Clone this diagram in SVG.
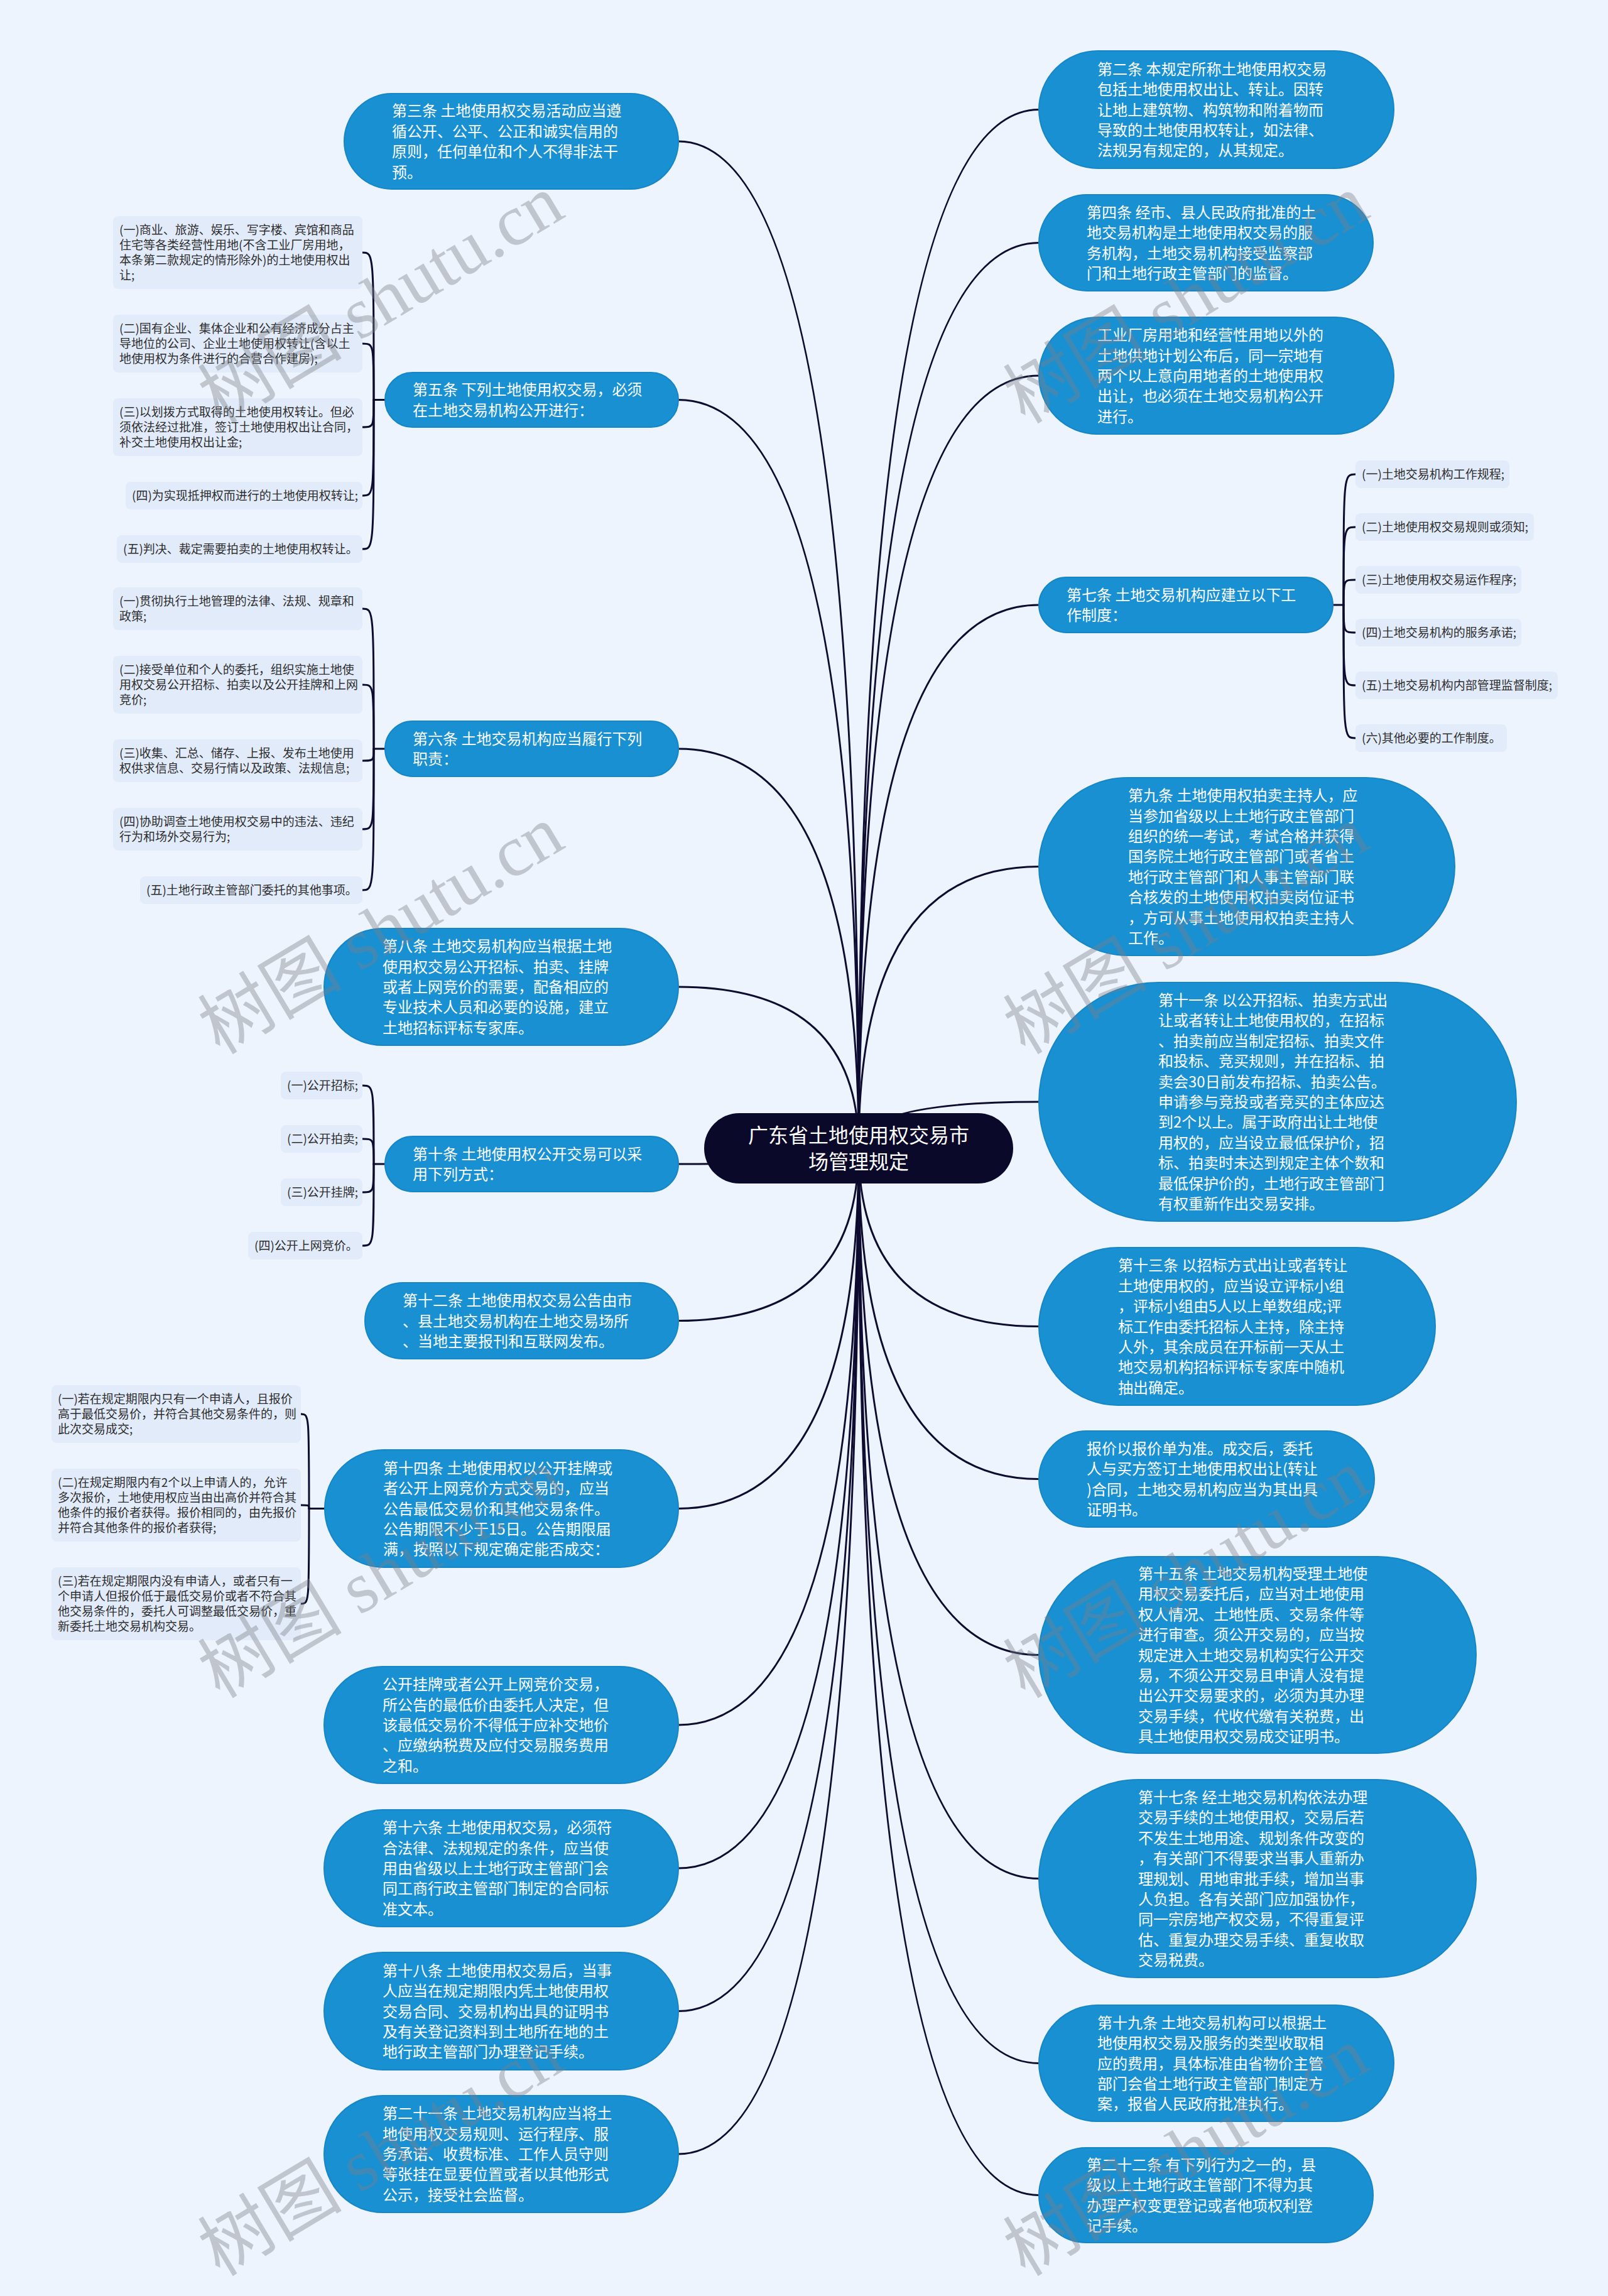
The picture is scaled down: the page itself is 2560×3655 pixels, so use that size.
<svg xmlns="http://www.w3.org/2000/svg" width="2560" height="3655" viewBox="0 0 2560 3655">
<style>
.bg{fill:#eef4fe}
.n rect{fill:#1890d2;stroke:#1786c6;stroke-width:2}
.n text{fill:#ffffff;font-family:"Noto Sans CJK SC","Liberation Sans",sans-serif;font-size:24px}
.l rect{fill:#e2ebfa}
.l text{fill:#2e2e2e;font-family:"Noto Sans CJK SC","Liberation Sans",sans-serif;font-size:19px}
.c path{fill:none;stroke:#0d0b2f;stroke-width:3;stroke-linecap:round}
.root rect{fill:#0b0929}
.root text{fill:#ffffff;font-family:"Noto Sans CJK SC","Liberation Sans",sans-serif;font-size:32px;text-anchor:middle}
.wm text{fill:#7a7f88;fill-opacity:0.4;font-family:"Liberation Serif","Noto Sans CJK SC",serif;font-size:115px}
</style>
<rect class="bg" x="0" y="0" width="2560" height="3655"/>

<g id="connectors" class="c">
<path d="M1367 1828 Q1367 225 1080 225"/>
<path d="M1367 1828 Q1367 636.5 1080 636.5"/>
<path d="M1367 1828 Q1367 1192 1080 1192"/>
<path d="M1367 1828 Q1367 1571 1080 1571"/>
<path d="M1367 1828 Q1367 1853 1080 1853"/>
<path d="M1367 1828 Q1367 2102.5 1080 2102.5"/>
<path d="M1367 1828 Q1367 2401.5 1080 2401.5"/>
<path d="M1367 1828 Q1367 2746 1080 2746"/>
<path d="M1367 1828 Q1367 2974 1080 2974"/>
<path d="M1367 1828 Q1367 3201.5 1080 3201.5"/>
<path d="M1367 1828 Q1367 3429 1080 3429"/>
<path d="M1367 1828 Q1367 174.5 1654 174.5"/>
<path d="M1367 1828 Q1367 386.5 1654 386.5"/>
<path d="M1367 1828 Q1367 598 1654 598"/>
<path d="M1367 1828 Q1367 963 1654 963"/>
<path d="M1367 1828 Q1367 1379.5 1654 1379.5"/>
<path d="M1367 1828 Q1367 1754 1654 1754"/>
<path d="M1367 1828 Q1367 2111.5 1654 2111.5"/>
<path d="M1367 1828 Q1367 2354.5 1654 2354.5"/>
<path d="M1367 1828 Q1367 2634.5 1654 2634.5"/>
<path d="M1367 1828 Q1367 2990.5 1654 2990.5"/>
<path d="M1367 1828 Q1367 3284.5 1654 3284.5"/>
<path d="M1367 1828 Q1367 3494.5 1654 3494.5"/>
<!-- 第五条 leaves -->
<path d="M613 636.5 H595"/>
<path d="M595 636.5 C595 402 595 402 577 402"/>
<path d="M595 636.5 C595 547 595 547 577 547"/>
<path d="M595 636.5 C595 680 595 680 577 680"/>
<path d="M595 636.5 C595 789 595 789 577 789"/>
<path d="M595 636.5 C595 874 595 874 577 874"/>
<!-- 第六条 leaves -->
<path d="M613 1192 H595"/>
<path d="M595 1192 C595 969 595 969 577 969"/>
<path d="M595 1192 C595 1090 595 1090 577 1090"/>
<path d="M595 1192 C595 1211 595 1211 577 1211"/>
<path d="M595 1192 C595 1320 595 1320 577 1320"/>
<path d="M595 1192 C595 1417 595 1417 577 1417"/>
<!-- 第十条 leaves -->
<path d="M613 1853 H595"/>
<path d="M595 1853 C595 1728 595 1728 577 1728"/>
<path d="M595 1853 C595 1813 595 1813 577 1813"/>
<path d="M595 1853 C595 1898 595 1898 577 1898"/>
<path d="M595 1853 C595 1983 595 1983 577 1983"/>
<!-- 第十四条 leaves -->
<path d="M517 2401.5 H492"/>
<path d="M492 2401.5 C492 2251 492 2251 479 2251"/>
<path d="M492 2401.5 C492 2396 492 2396 479 2396"/>
<path d="M492 2401.5 C492 2553 492 2553 479 2553"/>
<!-- 第七条 leaves -->
<path d="M2122 963 H2139"/>
<path d="M2139 963 C2139 755 2139 755 2158 755"/>
<path d="M2139 963 C2139 839 2139 839 2158 839"/>
<path d="M2139 963 C2139 923 2139 923 2158 923"/>
<path d="M2139 963 C2139 1007 2139 1007 2158 1007"/>
<path d="M2139 963 C2139 1091 2139 1091 2158 1091"/>
<path d="M2139 963 C2139 1175 2139 1175 2158 1175"/>
</g>

<g id="root" class="root">
<rect x="1121" y="1772" width="492" height="112" rx="56"/>
<text x="1367" y="1819">广东省土地使用权交易市</text>
<text x="1367" y="1861">场管理规定</text>
</g>

<!-- Left main nodes -->
<g id="n3" class="n">
<rect x="548" y="149" width="532" height="152" rx="76"/>
<text><tspan x="624" y="185.4">第三条 土地使用权交易活动应当遵</tspan><tspan x="624" y="217.8">循公开、公平、公正和诚实信用的</tspan><tspan x="624" y="250.2">原则，任何单位和个人不得非法干</tspan><tspan x="624" y="282.6">预。</tspan></text>
</g>
<g id="n5" class="n">
<rect x="613" y="593" width="467" height="87" rx="43.5"/>
<text><tspan x="657" y="629.3">第五条 下列土地使用权交易，必须</tspan><tspan x="657" y="661.7">在土地交易机构公开进行：</tspan></text>
</g>
<g id="n6" class="n">
<rect x="613" y="1148" width="467" height="88" rx="44"/>
<text><tspan x="657" y="1184.8">第六条 土地交易机构应当履行下列</tspan><tspan x="657" y="1217.2">职责：</tspan></text>
</g>
<g id="n8" class="n">
<rect x="516" y="1478" width="564" height="186" rx="93"/>
<text><tspan x="609" y="1515.2">第八条 土地交易机构应当根据土地</tspan><tspan x="609" y="1547.6">使用权交易公开招标、拍卖、挂牌</tspan><tspan x="609" y="1580">或者上网竞价的需要，配备相应的</tspan><tspan x="609" y="1612.4">专业技术人员和必要的设施，建立</tspan><tspan x="609" y="1644.8">土地招标评标专家库。</tspan></text>
</g>
<g id="n10" class="n">
<rect x="613" y="1809" width="467" height="88" rx="44"/>
<text><tspan x="657" y="1845.8">第十条 土地使用权公开交易可以采</tspan><tspan x="657" y="1878.2">用下列方式：</tspan></text>
</g>
<g id="n12" class="n">
<rect x="581" y="2042" width="499" height="121" rx="60.5"/>
<text><tspan x="641" y="2079.1">第十二条 土地使用权交易公告由市</tspan><tspan x="641" y="2111.5">、县土地交易机构在土地交易场所</tspan><tspan x="641" y="2143.9">、当地主要报刊和互联网发布。</tspan></text>
</g>
<g id="n14" class="n">
<rect x="517" y="2308" width="563" height="187" rx="93.5"/>
<text><tspan x="610" y="2345.7">第十四条 土地使用权以公开挂牌或</tspan><tspan x="610" y="2378.1">者公开上网竞价方式交易的，应当</tspan><tspan x="610" y="2410.5">公告最低交易价和其他交易条件。</tspan><tspan x="610" y="2442.9">公告期限不少于15日。公告期限届</tspan><tspan x="610" y="2475.3">满，按照以下规定确定能否成交：</tspan></text>
</g>
<g id="n14b" class="n">
<rect x="516" y="2653" width="564" height="186" rx="93"/>
<text><tspan x="609" y="2690.2">公开挂牌或者公开上网竞价交易，</tspan><tspan x="609" y="2722.6">所公告的最低价由委托人决定，但</tspan><tspan x="609" y="2755">该最低交易价不得低于应补交地价</tspan><tspan x="609" y="2787.4">、应缴纳税费及应付交易服务费用</tspan><tspan x="609" y="2819.8">之和。</tspan></text>
</g>
<g id="n16" class="n">
<rect x="516" y="2881" width="564" height="186" rx="93"/>
<text><tspan x="609" y="2918.2">第十六条 土地使用权交易，必须符</tspan><tspan x="609" y="2950.6">合法律、法规规定的条件，应当使</tspan><tspan x="609" y="2983">用由省级以上土地行政主管部门会</tspan><tspan x="609" y="3015.4">同工商行政主管部门制定的合同标</tspan><tspan x="609" y="3047.8">准文本。</tspan></text>
</g>
<g id="n18" class="n">
<rect x="516" y="3108" width="564" height="187" rx="93.5"/>
<text><tspan x="609" y="3145.7">第十八条 土地使用权交易后，当事</tspan><tspan x="609" y="3178.1">人应当在规定期限内凭土地使用权</tspan><tspan x="609" y="3210.5">交易合同、交易机构出具的证明书</tspan><tspan x="609" y="3242.9">及有关登记资料到土地所在地的土</tspan><tspan x="609" y="3275.3">地行政主管部门办理登记手续。</tspan></text>
</g>
<g id="n21" class="n">
<rect x="516" y="3336" width="564" height="186" rx="93"/>
<text><tspan x="609" y="3373.2">第二十一条 土地交易机构应当将土</tspan><tspan x="609" y="3405.6">地使用权交易规则、运行程序、服</tspan><tspan x="609" y="3438">务承诺、收费标准、工作人员守则</tspan><tspan x="609" y="3470.4">等张挂在显要位置或者以其他形式</tspan><tspan x="609" y="3502.8">公示，接受社会监督。</tspan></text>
</g>

<!-- Right main nodes -->
<g id="n2" class="n">
<rect x="1654" y="81" width="565" height="187" rx="93.5"/>
<text><tspan x="1747" y="118.7">第二条 本规定所称土地使用权交易</tspan><tspan x="1747" y="151.1">包括土地使用权出让、转让。因转</tspan><tspan x="1747" y="183.5">让地上建筑物、构筑物和附着物而</tspan><tspan x="1747" y="215.9">导致的土地使用权转让，如法律、</tspan><tspan x="1747" y="248.3">法规另有规定的，从其规定。</tspan></text>
</g>
<g id="n4" class="n">
<rect x="1654" y="310" width="532" height="153" rx="76.5"/>
<text><tspan x="1730" y="346.9">第四条 经市、县人民政府批准的土</tspan><tspan x="1730" y="379.3">地交易机构是土地使用权交易的服</tspan><tspan x="1730" y="411.7">务机构，土地交易机构接受监察部</tspan><tspan x="1730" y="444.1">门和土地行政主管部门的监督。</tspan></text>
</g>
<g id="n4b" class="n">
<rect x="1654" y="505" width="565" height="186" rx="93"/>
<text><tspan x="1747" y="542.2">工业厂房用地和经营性用地以外的</tspan><tspan x="1747" y="574.6">土地供地计划公布后，同一宗地有</tspan><tspan x="1747" y="607">两个以上意向用地者的土地使用权</tspan><tspan x="1747" y="639.4">出让，也必须在土地交易机构公开</tspan><tspan x="1747" y="671.8">进行。</tspan></text>
</g>
<g id="n7" class="n">
<rect x="1654" y="919" width="468" height="88" rx="44"/>
<text><tspan x="1698" y="955.8">第七条 土地交易机构应建立以下工</tspan><tspan x="1698" y="988.2">作制度：</tspan></text>
</g>
<g id="n9" class="n">
<rect x="1654" y="1238" width="662" height="283" rx="141.5"/>
<text><tspan x="1796" y="1275.1">第九条 土地使用权拍卖主持人，应</tspan><tspan x="1796" y="1307.5">当参加省级以上土地行政主管部门</tspan><tspan x="1796" y="1339.9">组织的统一考试，考试合格并获得</tspan><tspan x="1796" y="1372.3">国务院土地行政主管部门或者省土</tspan><tspan x="1796" y="1404.7">地行政主管部门和人事主管部门联</tspan><tspan x="1796" y="1437.1">合核发的土地使用权拍卖岗位证书</tspan><tspan x="1796" y="1469.5">，方可从事土地使用权拍卖主持人</tspan><tspan x="1796" y="1501.9">工作。</tspan></text>
</g>
<g id="n11" class="n">
<rect x="1654" y="1564" width="760" height="380" rx="190"/>
<text><tspan x="1844" y="1601">第十一条 以公开招标、拍卖方式出</tspan><tspan x="1844" y="1633.4">让或者转让土地使用权的，在招标</tspan><tspan x="1844" y="1665.8">、拍卖前应当制定招标、拍卖文件</tspan><tspan x="1844" y="1698.2">和投标、竞买规则，并在招标、拍</tspan><tspan x="1844" y="1730.6">卖会30日前发布招标、拍卖公告。</tspan><tspan x="1844" y="1763">申请参与竞投或者竞买的主体应达</tspan><tspan x="1844" y="1795.4">到2个以上。属于政府出让土地使</tspan><tspan x="1844" y="1827.8">用权的，应当设立最低保护价，招</tspan><tspan x="1844" y="1860.2">标、拍卖时未达到规定主体个数和</tspan><tspan x="1844" y="1892.6">最低保护价的，土地行政主管部门</tspan><tspan x="1844" y="1925">有权重新作出交易安排。</tspan></text>
</g>
<g id="n13" class="n">
<rect x="1654" y="1986" width="631" height="251" rx="125.5"/>
<text><tspan x="1780" y="2023.3">第十三条 以招标方式出让或者转让</tspan><tspan x="1780" y="2055.7">土地使用权的，应当设立评标小组</tspan><tspan x="1780" y="2088.1">，评标小组由5人以上单数组成;评</tspan><tspan x="1780" y="2120.5">标工作由委托招标人主持，除主持</tspan><tspan x="1780" y="2152.9">人外，其余成员在开标前一天从土</tspan><tspan x="1780" y="2185.3">地交易机构招标评标专家库中随机</tspan><tspan x="1780" y="2217.7">抽出确定。</tspan></text>
</g>
<g id="n13b" class="n">
<rect x="1654" y="2278" width="534" height="153" rx="76.5"/>
<text><tspan x="1730" y="2314.9">报价以报价单为准。成交后，委托</tspan><tspan x="1730" y="2347.3">人与买方签订土地使用权出让(转让</tspan><tspan x="1730" y="2379.7">)合同，土地交易机构应当为其出具</tspan><tspan x="1730" y="2412.1">证明书。</tspan></text>
</g>
<g id="n15" class="n">
<rect x="1654" y="2478" width="696" height="313" rx="156.5"/>
<text><tspan x="1812" y="2513.9">第十五条 土地交易机构受理土地使</tspan><tspan x="1812" y="2546.3">用权交易委托后，应当对土地使用</tspan><tspan x="1812" y="2578.7">权人情况、土地性质、交易条件等</tspan><tspan x="1812" y="2611.1">进行审查。须公开交易的，应当按</tspan><tspan x="1812" y="2643.5">规定进入土地交易机构实行公开交</tspan><tspan x="1812" y="2675.9">易，不须公开交易且申请人没有提</tspan><tspan x="1812" y="2708.3">出公开交易要求的，必须为其办理</tspan><tspan x="1812" y="2740.7">交易手续，代收代缴有关税费，出</tspan><tspan x="1812" y="2773.1">具土地使用权交易成交证明书。</tspan></text>
</g>
<g id="n17" class="n">
<rect x="1654" y="2833" width="696" height="315" rx="157.5"/>
<text><tspan x="1812" y="2869.9">第十七条 经土地交易机构依法办理</tspan><tspan x="1812" y="2902.3">交易手续的土地使用权，交易后若</tspan><tspan x="1812" y="2934.7">不发生土地用途、规划条件改变的</tspan><tspan x="1812" y="2967.1">，有关部门不得要求当事人重新办</tspan><tspan x="1812" y="2999.5">理规划、用地审批手续，增加当事</tspan><tspan x="1812" y="3031.9">人负担。各有关部门应加强协作，</tspan><tspan x="1812" y="3064.3">同一宗房地产权交易，不得重复评</tspan><tspan x="1812" y="3096.7">估、重复办理交易手续、重复收取</tspan><tspan x="1812" y="3129.1">交易税费。</tspan></text>
</g>
<g id="n19" class="n">
<rect x="1654" y="3192" width="565" height="185" rx="92.5"/>
<text><tspan x="1747" y="3228.7">第十九条 土地交易机构可以根据土</tspan><tspan x="1747" y="3261.1">地使用权交易及服务的类型收取相</tspan><tspan x="1747" y="3293.5">应的费用，具体标准由省物价主管</tspan><tspan x="1747" y="3325.9">部门会省土地行政主管部门制定方</tspan><tspan x="1747" y="3358.3">案，报省人民政府批准执行。</tspan></text>
</g>
<g id="n22" class="n">
<rect x="1654" y="3419" width="532" height="151" rx="75.5"/>
<text><tspan x="1730" y="3454.9">第二十二条 有下列行为之一的，县</tspan><tspan x="1730" y="3487.3">级以上土地行政主管部门不得为其</tspan><tspan x="1730" y="3519.7">办理产权变更登记或者他项权利登</tspan><tspan x="1730" y="3552.1">记手续。</tspan></text>
</g>

<!-- Leaves of 第五条 -->
<g id="l5a" class="l"><rect x="180" y="344" width="397" height="116" rx="8"/>
<text><tspan x="190" y="373">(一)商业、旅游、娱乐、写字楼、宾馆和商品</tspan><tspan x="190" y="397">住宅等各类经营性用地(不含工业厂房用地，</tspan><tspan x="190" y="421">本条第二款规定的情形除外)的土地使用权出</tspan><tspan x="190" y="445">让;</tspan></text></g>
<g id="l5b" class="l"><rect x="180" y="501" width="397" height="92" rx="8"/>
<text><tspan x="190" y="530">(二)国有企业、集体企业和公有经济成分占主</tspan><tspan x="190" y="554">导地位的公司、企业土地使用权转让(含以土</tspan><tspan x="190" y="578">地使用权为条件进行的合营合作建房);</tspan></text></g>
<g id="l5c" class="l"><rect x="180" y="634" width="397" height="92" rx="8"/>
<text><tspan x="190" y="663">(三)以划拨方式取得的土地使用权转让。但必</tspan><tspan x="190" y="687">须依法经过批准，签订土地使用权出让合同，</tspan><tspan x="190" y="711">补交土地使用权出让金;</tspan></text></g>
<g id="l5d" class="l"><rect x="200" y="767" width="377" height="44" rx="8"/>
<text x="210" y="796">(四)为实现抵押权而进行的土地使用权转让;</text></g>
<g id="l5e" class="l"><rect x="186" y="852" width="391" height="44" rx="8"/>
<text x="196" y="881">(五)判决、裁定需要拍卖的土地使用权转让。</text></g>

<!-- Leaves of 第六条 -->
<g id="l6a" class="l"><rect x="180" y="935" width="397" height="68" rx="8"/>
<text><tspan x="190" y="964">(一)贯彻执行土地管理的法律、法规、规章和</tspan><tspan x="190" y="988">政策;</tspan></text></g>
<g id="l6b" class="l"><rect x="180" y="1044" width="397" height="92" rx="8"/>
<text><tspan x="190" y="1073">(二)接受单位和个人的委托，组织实施土地使</tspan><tspan x="190" y="1097">用权交易公开招标、拍卖以及公开挂牌和上网</tspan><tspan x="190" y="1121">竞价;</tspan></text></g>
<g id="l6c" class="l"><rect x="180" y="1177" width="397" height="68" rx="8"/>
<text><tspan x="190" y="1206">(三)收集、汇总、储存、上报、发布土地使用</tspan><tspan x="190" y="1230">权供求信息、交易行情以及政策、法规信息;</tspan></text></g>
<g id="l6d" class="l"><rect x="180" y="1286" width="397" height="68" rx="8"/>
<text><tspan x="190" y="1315">(四)协助调查土地使用权交易中的违法、违纪</tspan><tspan x="190" y="1339">行为和场外交易行为;</tspan></text></g>
<g id="l6e" class="l"><rect x="223" y="1395" width="354" height="44" rx="8"/>
<text x="233" y="1424">(五)土地行政主管部门委托的其他事项。</text></g>

<!-- Leaves of 第十条 -->
<g id="l10a" class="l"><rect x="447" y="1706" width="130" height="44" rx="8"/>
<text x="457" y="1735">(一)公开招标;</text></g>
<g id="l10b" class="l"><rect x="447" y="1791" width="130" height="44" rx="8"/>
<text x="457" y="1820">(二)公开拍卖;</text></g>
<g id="l10c" class="l"><rect x="447" y="1876" width="130" height="44" rx="8"/>
<text x="457" y="1905">(三)公开挂牌;</text></g>
<g id="l10d" class="l"><rect x="395" y="1961" width="182" height="44" rx="8"/>
<text x="405" y="1990">(四)公开上网竞价。</text></g>

<!-- Leaves of 第十四条 -->
<g id="l14a" class="l"><rect x="82" y="2205" width="397" height="92" rx="8"/>
<text><tspan x="92" y="2234">(一)若在规定期限内只有一个申请人，且报价</tspan><tspan x="92" y="2258">高于最低交易价，并符合其他交易条件的，则</tspan><tspan x="92" y="2282">此次交易成交;</tspan></text></g>
<g id="l14b" class="l"><rect x="82" y="2338" width="397" height="116" rx="8"/>
<text><tspan x="92" y="2367">(二)在规定期限内有2个以上申请人的，允许</tspan><tspan x="92" y="2391">多次报价，土地使用权应当由出高价并符合其</tspan><tspan x="92" y="2415">他条件的报价者获得。报价相同的，由先报价</tspan><tspan x="92" y="2439">并符合其他条件的报价者获得;</tspan></text></g>
<g id="l14c" class="l"><rect x="82" y="2495" width="397" height="116" rx="8"/>
<text><tspan x="92" y="2524">(三)若在规定期限内没有申请人，或者只有一</tspan><tspan x="92" y="2548">个申请人但报价低于最低交易价或者不符合其</tspan><tspan x="92" y="2572">他交易条件的，委托人可调整最低交易价，重</tspan><tspan x="92" y="2596">新委托土地交易机构交易。</tspan></text></g>

<!-- Leaves of 第七条 -->
<g id="l7a" class="l"><rect x="2158" y="733" width="245" height="44" rx="8"/>
<text x="2168" y="762">(一)土地交易机构工作规程;</text></g>
<g id="l7b" class="l"><rect x="2158" y="817" width="284" height="44" rx="8"/>
<text x="2168" y="846">(二)土地使用权交易规则或须知;</text></g>
<g id="l7c" class="l"><rect x="2158" y="901" width="264" height="44" rx="8"/>
<text x="2168" y="930">(三)土地使用权交易运作程序;</text></g>
<g id="l7d" class="l"><rect x="2158" y="985" width="264" height="44" rx="8"/>
<text x="2168" y="1014">(四)土地交易机构的服务承诺;</text></g>
<g id="l7e" class="l"><rect x="2158" y="1069" width="322" height="44" rx="8"/>
<text x="2168" y="1098">(五)土地交易机构内部管理监督制度;</text></g>
<g id="l7f" class="l"><rect x="2158" y="1153" width="241" height="44" rx="8"/>
<text x="2168" y="1182">(六)其他必要的工作制度。</text></g>

<g id="watermark" class="wm">
<text transform="translate(350 676) rotate(-31)">树图 shutu.cn</text>
<text transform="translate(350 1680) rotate(-31)">树图 shutu.cn</text>
<text transform="translate(350 2705) rotate(-31)">树图 shutu.cn</text>
<text transform="translate(350 3625) rotate(-31)">树图 shutu.cn</text>
<text transform="translate(1632 676) rotate(-31)">树图 shutu.cn</text>
<text transform="translate(1632 1680) rotate(-31)">树图 shutu.cn</text>
<text transform="translate(1632 2705) rotate(-31)">树图 shutu.cn</text>
<text transform="translate(1632 3625) rotate(-31)">树图 shutu.cn</text>
</g>
</svg>
